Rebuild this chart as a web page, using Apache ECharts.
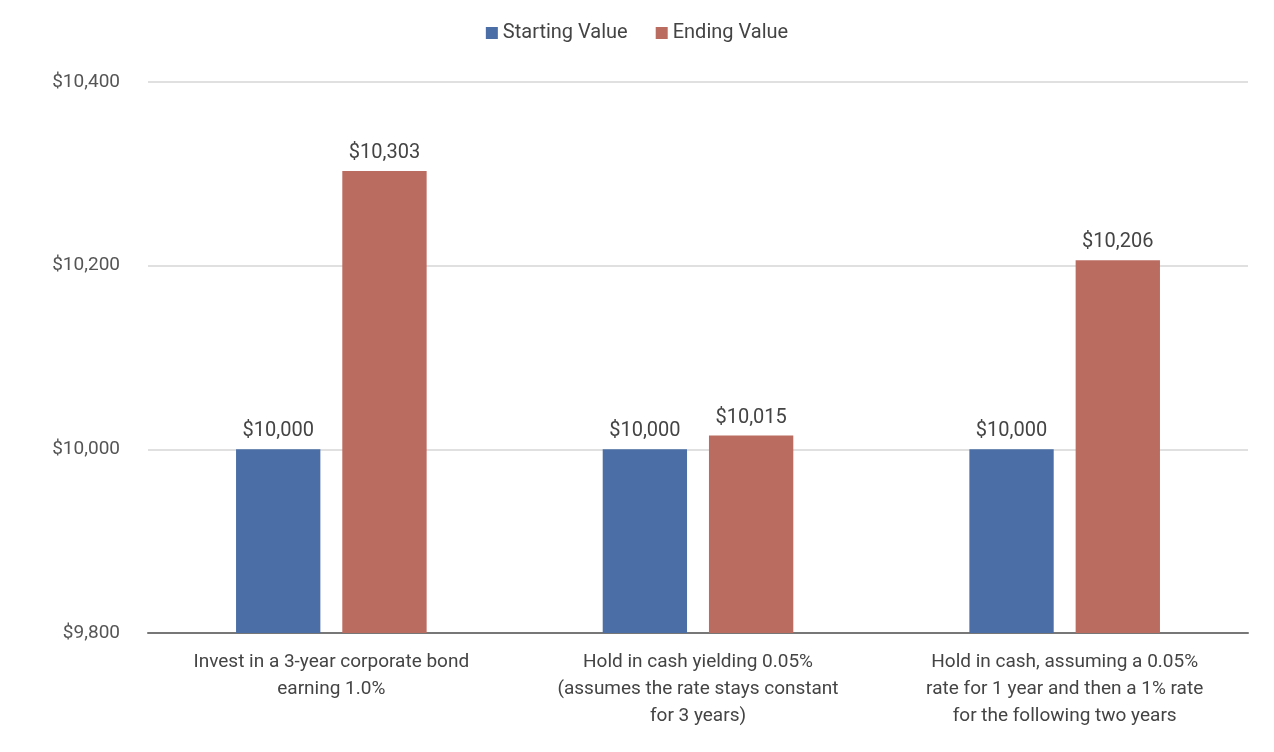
<!DOCTYPE html>
<html>
<head>
<meta charset="utf-8">
<script src="https://cdn.jsdelivr.net/npm/echarts@6/dist/echarts.min.js"></script>
<style>
  html, body { margin: 0; padding: 0; background: #fff; }
  #chart { width: 1274px; height: 752px; }
</style>
</head>
<body>
<div id="chart"></div>
<script>
// data
const categories = [
  'Invest in a 3-year corporate bond\nearning 1.0%',
  'Hold in cash yielding 0.05%\n(assumes the rate stays constant\nfor 3 years)',
  'Hold in cash, assuming a 0.05%\nrate for 1 year and then a 1% rate\nfor the following two years'
];
const startingValues = [10000, 10000, 10000];
const endingValues = [10303, 10015, 10206];

const money = v => '$' + v.toLocaleString('en-US');
const font = 'Roboto, "Noto Sans", sans-serif';

const chart = echarts.init(document.getElementById('chart'));
chart.setOption({
  animation: false,
  textStyle: { fontFamily: font },
  legend: {
    top: 18,
    left: 'center',
    itemWidth: 12,
    itemHeight: 12,
    itemGap: 28,
    icon: 'rect',
    textStyle: { fontSize: 20, color: '#444' },
    data: ['Starting Value', 'Ending Value']
  },
  grid: { left: 148, right: 26, top: 82, bottom: 119 },
  xAxis: {
    type: 'category',
    data: categories,
    axisTick: { show: false },
    axisLine: { lineStyle: { color: '#777', width: 2 } },
    axisLabel: { fontSize: 19, color: '#444', lineHeight: 27, margin: 16 }
  },
  yAxis: {
    type: 'value',
    min: 9800,
    max: 10400,
    interval: 200,
    axisLabel: { fontSize: 19, color: '#555', formatter: money, margin: 28 },
    splitLine: { lineStyle: { color: '#d6d6d6', width: 1.5 } }
  },
  series: [
    {
      name: 'Starting Value',
      type: 'bar',
      data: startingValues,
      barWidth: '23%',
      barGap: '26%',
      itemStyle: { color: '#4a6ea5' },
      label: { show: true, position: 'top', formatter: p => money(p.value), fontSize: 20, color: '#444', distance: 8 }
    },
    {
      name: 'Ending Value',
      type: 'bar',
      data: endingValues,
      barWidth: '23%',
      itemStyle: { color: '#bb6c60' },
      label: { show: true, position: 'top', formatter: p => money(p.value), fontSize: 20, color: '#444', distance: 8 }
    }
  ]
});
</script>
</body>
</html>
